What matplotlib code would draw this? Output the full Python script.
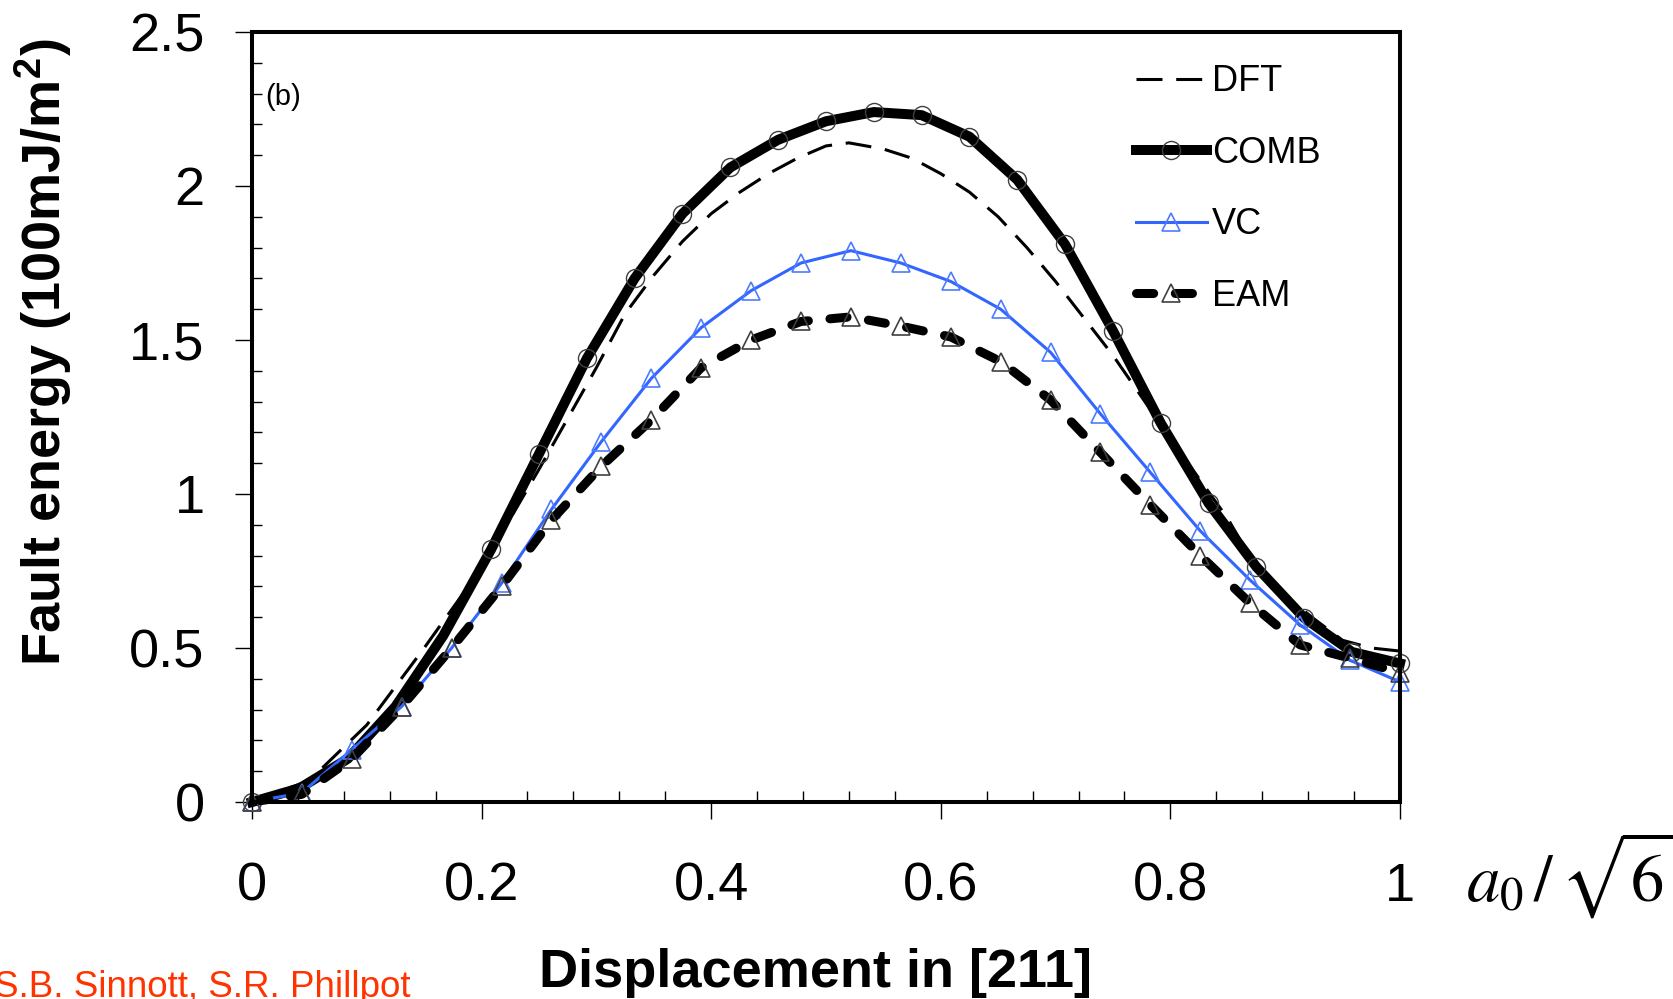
import numpy as np
import matplotlib.pyplot as plt
from matplotlib.ticker import MultipleLocator, FormatStrFormatter

plt.rcParams['font.family'] = ['Liberation Sans', 'DejaVu Sans']
plt.rcParams['mathtext.fontset'] = 'stix'

# displacement (fraction of a0/sqrt6) and fault energy (100 mJ/m^2)
x_dft = [0, 0.05, 0.1, 0.15, 0.2, 0.25, 0.3, 0.325, 0.35, 0.375, 0.4, 0.425,
         0.45, 0.475, 0.5, 0.52, 0.55, 0.575, 0.6, 0.625, 0.65, 0.675, 0.7,
         0.725, 0.75, 0.8, 0.85, 0.875, 0.9, 0.925, 0.95, 0.975, 1.0]
y_dft = [0, 0.07, 0.25, 0.50, 0.76, 1.08, 1.41, 1.585, 1.71, 1.82, 1.91, 1.98,
         2.04, 2.09, 2.13, 2.14, 2.12, 2.09, 2.04, 1.98, 1.90, 1.80, 1.69,
         1.57, 1.45, 1.18, 0.92, 0.76, 0.67, 0.595, 0.525, 0.50, 0.49]

x_comb = np.arange(25) / 24
y_comb = [0, 0.045, 0.14, 0.31, 0.54, 0.82, 1.13, 1.44, 1.70, 1.91, 2.06, 2.15,
          2.21, 2.24, 2.23, 2.16, 2.02, 1.81, 1.53, 1.23, 0.97, 0.763, 0.597,
          0.487, 0.45]
comb_marks = [0] + list(range(5, 25))

x_vc = np.arange(24) / 23
y_vc = [0, 0.03, 0.17, 0.31, 0.50, 0.71, 0.95, 1.17, 1.375, 1.54, 1.66, 1.75,
        1.79, 1.75, 1.69, 1.60, 1.46, 1.26, 1.07, 0.88, 0.72, 0.575, 0.46, 0.39]

x_eam = np.arange(24) / 23
y_eam = [0, 0.025, 0.14, 0.31, 0.50, 0.70, 0.915, 1.09, 1.24, 1.41, 1.50, 1.56,
         1.575, 1.545, 1.51, 1.43, 1.305, 1.135, 0.965, 0.80, 0.645, 0.51,
         0.467, 0.42]

fig = plt.figure(figsize=(16.73, 9.99), dpi=100)
ax = fig.add_axes([0.1506, 0.1972, 0.6862, 0.7708])

ax.plot(x_dft, y_dft, color='black', lw=2.2, ls=(0, (8.5, 4.5)), label='DFT',
        clip_on=False)
ax.plot(x_comb, y_comb, color='black', lw=7.2, marker='o', ms=13,
        mfc='none', mec='#404040', mew=1.0, markevery=comb_marks,
        label='COMB', clip_on=False)
ax.plot(x_vc, y_vc, color='#3366ff', lw=2.2, marker='^', ms=13,
        mfc='none', mec='#4d7bff', mew=1.2, label='VC', clip_on=False)
ax.plot(x_eam, y_eam, color='black', lw=6.5, ls=(0, (1.9, 2.4)),
        dash_capstyle='round', marker='^', ms=13, mfc='none', mec='#404040',
        mew=1.2, label='EAM', clip_on=False)

ax.set_xlim(0, 1)
ax.set_ylim(0, 2.5)
ax.xaxis.set_major_locator(MultipleLocator(0.2))
ax.xaxis.set_minor_locator(MultipleLocator(0.04))
ax.yaxis.set_major_locator(MultipleLocator(0.5))
ax.yaxis.set_minor_locator(MultipleLocator(0.1))
ax.xaxis.set_major_formatter(FormatStrFormatter('%g'))
ax.yaxis.set_major_formatter(FormatStrFormatter('%g'))

for s in ax.spines.values():
    s.set_linewidth(2.9)
ax.tick_params(which='major', direction='out', length=12, width=1.0,
               labelsize=39)
ax.tick_params(axis='x', which='major', pad=31)
ax.tick_params(axis='y', which='major', pad=22)
ax.tick_params(axis='x', which='minor', direction='in', length=8, width=1.0)
ax.tick_params(axis='y', which='minor', direction='in', length=7, width=1.0)

ax.set_xlabel('Displacement in [211]', fontsize=39, fontweight='bold',
              va='center')
ax.xaxis.set_label_coords(0.491, -0.222)
ax.set_ylabel('Fault energy (100mJ/m$^\\mathregular{2}$)', fontsize=39,
              fontweight='bold', va='center')
ax.yaxis.set_label_coords(-0.182, 0.584)

ax.text(0.012, 2.29, '(b)', fontsize=21, ha='left', va='center')

fig.text(1570 / 1673, 1 - 875 / 999, r'$a_0\,/\,\sqrt{6}$', fontsize=48,
         ha='center', va='center')
fig.text(-6 / 1673, 1 - 997 / 999, 'S.B. Sinnott, S.R. Phillpot',
         fontsize=26.5, color='#ff3300', ha='left', va='baseline')

ax.legend(loc='upper left', bbox_to_anchor=(0.770, 0.958), frameon=False,
          fontsize=26, borderpad=0, borderaxespad=0, handlelength=1.97,
          handletextpad=0.14, labelspacing=1.01, markerscale=1.0)

fig.savefig('out.png', dpi=100)
